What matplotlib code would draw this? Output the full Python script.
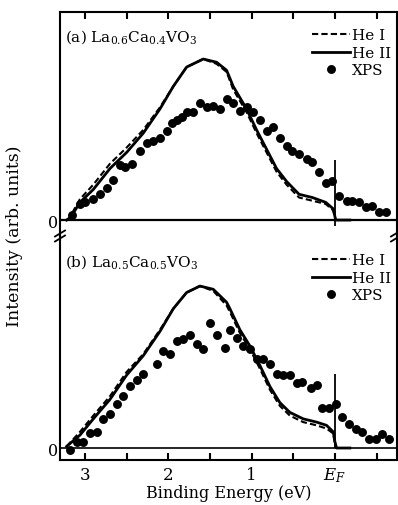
import matplotlib
matplotlib.use("Agg")
import matplotlib.pyplot as plt
from matplotlib.lines import Line2D

plt.rcParams['font.family'] = ['DejaVu Serif']
plt.rcParams['mathtext.fontset'] = 'dejavuserif'

# ---- data: panel (a) La0.6Ca0.4VO3 ----
a_he2_E = [3.22, 3.18, 3.06, 2.90, 2.70, 2.50, 2.30, 2.10, 1.94, 1.78, 1.58, 1.42, 1.30,
           1.22, 1.06, 0.94, 0.82, 0.70, 0.58, 0.43, 0.27, 0.11, 0.02, -0.01, -0.18]
a_he2_I = [0.0, 0.01, 0.11, 0.19, 0.32, 0.42, 0.54, 0.69, 0.83, 0.95, 1.00, 0.98, 0.93,
           0.83, 0.69, 0.56, 0.44, 0.32, 0.24, 0.16, 0.14, 0.11, 0.07, 0.0, 0.0]
a_he1_E = [3.22, 3.18, 3.06, 2.90, 2.70, 2.50, 2.30, 2.10, 1.94, 1.78, 1.58, 1.42, 1.30,
           1.22, 1.06, 0.94, 0.82, 0.70, 0.58, 0.43, 0.27, 0.11, 0.02, -0.01]
a_he1_I = [0.0, 0.02, 0.13, 0.22, 0.35, 0.45, 0.56, 0.70, 0.83, 0.95, 1.00, 0.97, 0.92,
           0.81, 0.67, 0.54, 0.42, 0.30, 0.22, 0.14, 0.12, 0.10, 0.06, 0.0]
a_xps_E = [3.16, 3.06, 3.00, 2.90, 2.82, 2.74, 2.66, 2.58, 2.52, 2.44, 2.34, 2.26, 2.18,
           2.10, 2.02, 1.96, 1.90, 1.84, 1.78, 1.70, 1.62, 1.54, 1.46, 1.38, 1.30, 1.22,
           1.14, 1.06, 0.98, 0.90, 0.82, 0.74, 0.66, 0.58, 0.51, 0.43, 0.34, 0.27, 0.19,
           0.11, 0.03, -0.05, -0.15, -0.21, -0.29, -0.37, -0.45, -0.53, -0.61]
a_xps_I = [0.03, 0.10, 0.11, 0.13, 0.16, 0.20, 0.25, 0.34, 0.33, 0.35, 0.43, 0.48, 0.49,
           0.51, 0.55, 0.60, 0.62, 0.64, 0.67, 0.67, 0.73, 0.70, 0.71, 0.69, 0.75, 0.73,
           0.68, 0.70, 0.67, 0.62, 0.55, 0.58, 0.51, 0.46, 0.43, 0.41, 0.38, 0.36, 0.30,
           0.23, 0.24, 0.15, 0.12, 0.12, 0.11, 0.08, 0.09, 0.05, 0.05]

# ---- data: panel (b) La0.5Ca0.5VO3 ----
b_he2_E = [3.22, 3.06, 2.90, 2.70, 2.50, 2.30, 2.10, 1.94, 1.78, 1.62, 1.46, 1.30, 1.26,
           1.14, 1.02, 0.90, 0.78, 0.66, 0.54, 0.38, 0.22, 0.10, 0.02, 0.0, -0.02, -0.18]
b_he2_I = [0.01, 0.08, 0.18, 0.30, 0.45, 0.57, 0.72, 0.86, 0.96, 1.00, 0.98, 0.90, 0.86,
           0.73, 0.63, 0.51, 0.38, 0.28, 0.22, 0.18, 0.16, 0.14, 0.10, 0.04, 0.0, 0.0]
b_he1_E = [3.22, 3.06, 2.90, 2.70, 2.50, 2.30, 2.10, 1.94, 1.78, 1.62, 1.46, 1.30, 1.26,
           1.14, 1.02, 0.90, 0.78, 0.66, 0.54, 0.38, 0.22, 0.10, 0.02, 0.0]
b_he1_I = [0.01, 0.10, 0.20, 0.32, 0.47, 0.58, 0.73, 0.86, 0.96, 1.00, 0.97, 0.88, 0.84,
           0.71, 0.61, 0.49, 0.36, 0.26, 0.20, 0.16, 0.14, 0.12, 0.09, 0.03]
b_xps_E = [3.18, 3.10, 3.02, 2.94, 2.86, 2.78, 2.70, 2.62, 2.54, 2.46, 2.38, 2.30, 2.14,
           2.06, 1.98, 1.90, 1.82, 1.74, 1.66, 1.58, 1.50, 1.42, 1.32, 1.26, 1.18, 1.10,
           1.02, 0.94, 0.86, 0.78, 0.70, 0.62, 0.54, 0.46, 0.39, 0.29, 0.21, 0.15, 0.07,
           -0.01, -0.09, -0.17, -0.25, -0.33, -0.41, -0.49, -0.57, -0.65]
b_xps_I = [-0.01, 0.035, 0.035, 0.09, 0.10, 0.18, 0.21, 0.27, 0.32, 0.38, 0.42, 0.46, 0.52,
           0.60, 0.58, 0.66, 0.67, 0.70, 0.64, 0.61, 0.77, 0.70, 0.62, 0.73, 0.68, 0.63,
           0.61, 0.55, 0.55, 0.52, 0.46, 0.45, 0.45, 0.40, 0.41, 0.37, 0.39, 0.245, 0.25,
           0.27, 0.19, 0.15, 0.12, 0.10, 0.056, 0.056, 0.086, 0.056]

x_ticks = [3, 2, 1, 0]
x_tick_labels = ['3', '2', '1', r'$E_F$']
x_minor = [2.5, 1.5, 0.5, -0.5]
labels = [r'(a) La$_{0.6}$Ca$_{0.4}$VO$_3$', r'(b) La$_{0.5}$Ca$_{0.5}$VO$_3$']
legend_labels = ['He I', 'He II', 'XPS']
ef_tops = [0.37, 0.46]
ef_bottoms = [-0.04, 0.0]

W, H = 398, 506
fig = plt.figure(figsize=(W / 100, H / 100), dpi=100)
left, right = 60 / W, 396.5 / W
ax_a = fig.add_axes([left, 1 - 237 / H, right - left, (237 - 13) / H])
ax_b = fig.add_axes([left, 1 - 461 / H, right - left, (461 - 237) / H], sharex=ax_a)

panels = [
    (ax_a, a_he1_E, a_he1_I, a_he2_E, a_he2_I, a_xps_E, a_xps_I, (-0.099, 1.292)),
    (ax_b, b_he1_E, b_he1_I, b_he2_E, b_he2_I, b_xps_E, b_xps_I, (-0.074, 1.309)),
]

for i, (ax, e1, i1, e2, i2, ex, ix, yl) in enumerate(panels):
    ax.plot(e1, i1, ls=(0, (3, 1.5)), color='black', lw=1.5)
    ax.plot(e2, i2, ls='-', color='black', lw=2.0)
    ax.plot(ex, ix, 'o', color='black', ms=5.4, mec='black')
    ax.axhline(0, color='black', lw=1.6 if i == 0 else 1.2)
    ax.vlines(0, ef_bottoms[i], ef_tops[i], color='black', lw=1.3)
    ax.set_ylim(*yl)
    ax.set_xlim(3.30, -0.74)
    ax.set_yticks([0])
    ax.set_yticklabels(['0'], fontsize=11.5)
    ax.tick_params(axis='y', length=0, pad=1.5)
    ax.text(0.015, 0.893 if i == 0 else 0.888, labels[i], transform=ax.transAxes,
            fontsize=11, va='center', ha='left')
    handles = [Line2D([], [], ls=(0, (3, 1.5)), color='black', lw=1.5),
               Line2D([], [], ls='-', color='black', lw=2.0),
               Line2D([], [], ls='none', marker='o', color='black', ms=5.4)]
    top_px = 29.5 if i == 0 else 254.5
    ax_top = 13 if i == 0 else 237
    ax.legend(handles, legend_labels, loc='upper right', frameon=False,
              bbox_to_anchor=(0.985, 1 - (top_px - ax_top) / 224),
              fontsize=11, handlelength=2.5, handletextpad=0.15, labelspacing=0.22,
              borderaxespad=0.0, borderpad=0.0)
    for s in ax.spines.values():
        s.set_linewidth(1.5)

ax_a.spines['bottom'].set_visible(False)
ax_b.spines['top'].set_visible(False)
ax_a.set_xticks(x_ticks)
ax_a.set_xticks(x_minor, minor=True)
ax_a.tick_params(axis='x', which='both', direction='in', top=True, bottom=False,
                 labeltop=False, labelbottom=False, length=5, width=1.5)
ax_b.tick_params(axis='x', which='both', direction='in', top=False, bottom=True,
                 labelbottom=True, length=5, width=1.5, labelsize=12, pad=4)
ax_b.set_xticklabels(x_tick_labels)
ax_b.set_xlabel('Binding Energy (eV)', fontsize=11.5, labelpad=0)

fig.text(15 / W, 1 - 236 / H, 'Intensity (arb. units)', rotation=90, fontsize=12.5,
         ha='center', va='center')

# axis break marks
for xc in (60, 396):
    for dy in (-2.5, 2.5):
        y = 237 + dy
        fig.add_artist(Line2D([(xc - 5) / W, (xc + 5) / W],
                              [1 - (y + 3) / H, 1 - (y - 3) / H],
                              color='black', lw=1.3, transform=fig.transFigure,
                              clip_on=False))

fig.savefig('out.png', dpi=100)
